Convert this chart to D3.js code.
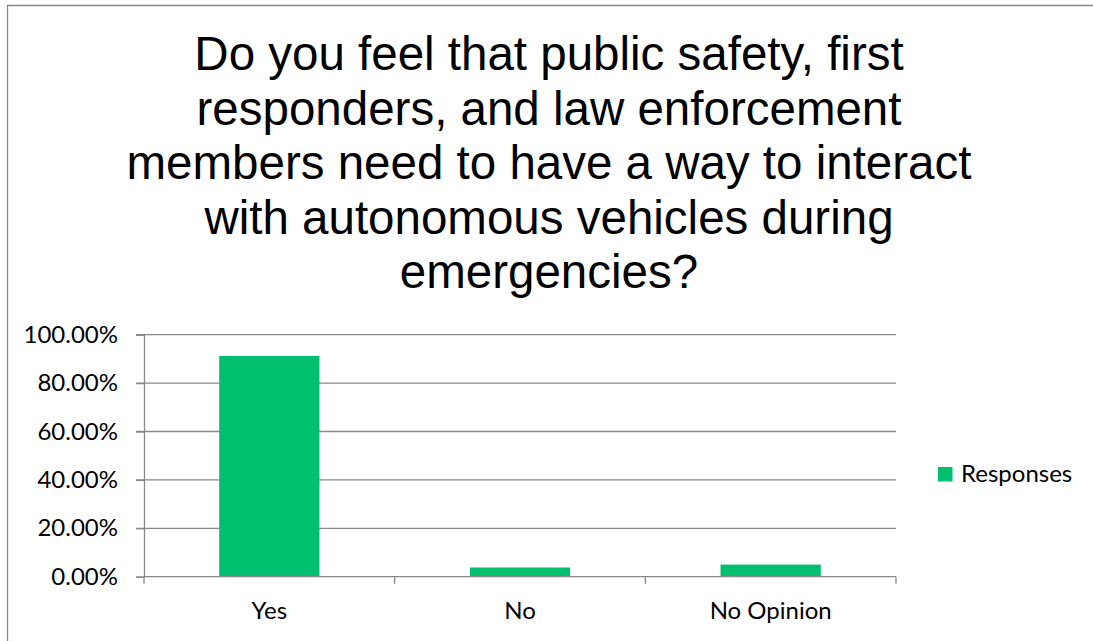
<!DOCTYPE html>
<html>
<head>
<meta charset="utf-8">
<script src="https://cdn.jsdelivr.net/npm/d3@7"></script>
<style>
  html, body { margin: 0; padding: 0; background: #fff; }
  svg { display: block; }
</style>
</head>
<body>
<svg id="chart" width="1093" height="641"></svg>
<script>
// Survey question and answers
const titleLines = [
  "Do you feel that public safety, first",
  "responders, and law enforcement",
  "members need to have a way to interact",
  "with autonomous vehicles during",
  "emergencies?"
];
const categories = ["Yes", "No", "No Opinion"];
const responses = [0.912, 0.038, 0.05];
const yTicks = [0, 0.2, 0.4, 0.6, 0.8, 1.0];
const seriesName = "Responses";

const W = 1093, H = 641;
const green = "#00BF6F";
const gray = "#898989";
const tickFont = "Lato, 'Open Sans', sans-serif";
const tickSize = 24;

const svg = d3.select("#chart");

// Chart frame (top and left edges)
svg.append("path")
  .attr("d", `M7.5,${H} V5.5 H${W}`)
  .attr("fill", "none")
  .attr("stroke", gray)
  .attr("stroke-width", 1.3);

// Title
const title = svg.append("text")
  .attr("x", 549)
  .attr("y", 70)
  .attr("text-anchor", "middle")
  .attr("font-family", "'Liberation Sans', Arial, sans-serif")
  .attr("font-size", 47.5)
  .attr("fill", "#000");
title.selectAll("tspan")
  .data(titleLines)
  .join("tspan")
  .attr("x", 549)
  .attr("dy", (d, i) => i === 0 ? 0 : 54.5)
  .text(d => d);

// Plot area
const plot = { left: 144, right: 896, top: 334.7, bottom: 576.7 };

const x = d3.scaleBand()
  .domain(categories)
  .range([plot.left, plot.right])
  .paddingInner(0.6)
  .paddingOuter(0.3);

const y = d3.scaleLinear()
  .domain([0, 1])
  .range([plot.bottom, plot.top]);

// Horizontal gridlines
svg.append("g")
  .selectAll("line")
  .data(yTicks.filter(d => d > 0))
  .join("line")
  .attr("x1", plot.left - 8)
  .attr("x2", plot.right)
  .attr("y1", d => y(d))
  .attr("y2", d => y(d))
  .attr("stroke", gray)
  .attr("stroke-width", 1.3);

// Y axis
const yAxis = svg.append("g")
  .attr("transform", `translate(${plot.left},0)`)
  .call(d3.axisLeft(y).tickValues(yTicks).tickFormat(d3.format(".2%")).tickSize(8).tickPadding(18));
yAxis.select(".domain").attr("stroke", gray).attr("stroke-width", 1.3);
yAxis.selectAll(".tick line").attr("stroke", gray).attr("stroke-width", 1.3);
yAxis.selectAll(".tick text")
  .attr("font-family", tickFont)
  .attr("font-size", tickSize)
  .attr("fill", "#000");

// Bars
svg.append("g")
  .selectAll("rect")
  .data(categories.map((c, i) => ({ c, v: responses[i] })))
  .join("rect")
  .attr("x", d => x(d.c))
  .attr("width", x.bandwidth())
  .attr("y", d => y(d.v))
  .attr("height", d => y(0) - y(d.v))
  .attr("fill", green);

// X axis with ticks at category boundaries
const xAxisG = svg.append("g");
xAxisG.append("line")
  .attr("x1", plot.left).attr("x2", plot.right)
  .attr("y1", plot.bottom).attr("y2", plot.bottom)
  .attr("stroke", gray).attr("stroke-width", 1.3);
const bounds = d3.range(categories.length + 1).map(i => plot.left + i * (plot.right - plot.left) / categories.length);
xAxisG.selectAll("line.tk")
  .data(bounds)
  .join("line")
  .attr("class", "tk")
  .attr("x1", d => d).attr("x2", d => d)
  .attr("y1", plot.bottom).attr("y2", plot.bottom + 7)
  .attr("stroke", gray).attr("stroke-width", 1.3);
xAxisG.selectAll("text")
  .data(categories)
  .join("text")
  .attr("x", d => x(d) + x.bandwidth() / 2)
  .attr("y", 619)
  .attr("text-anchor", "middle")
  .attr("font-family", tickFont)
  .attr("font-size", tickSize)
  .attr("fill", "#000")
  .text(d => d);

// Legend
const legend = svg.append("g").attr("transform", "translate(938,467)");
legend.append("rect")
  .attr("width", 14.5).attr("height", 14.5)
  .attr("fill", green);
legend.append("text")
  .attr("x", 23)
  .attr("y", 14.5)
  .attr("font-family", tickFont)
  .attr("font-size", tickSize)
  .attr("fill", "#000")
  .text(seriesName);
</script>
</body>
</html>
